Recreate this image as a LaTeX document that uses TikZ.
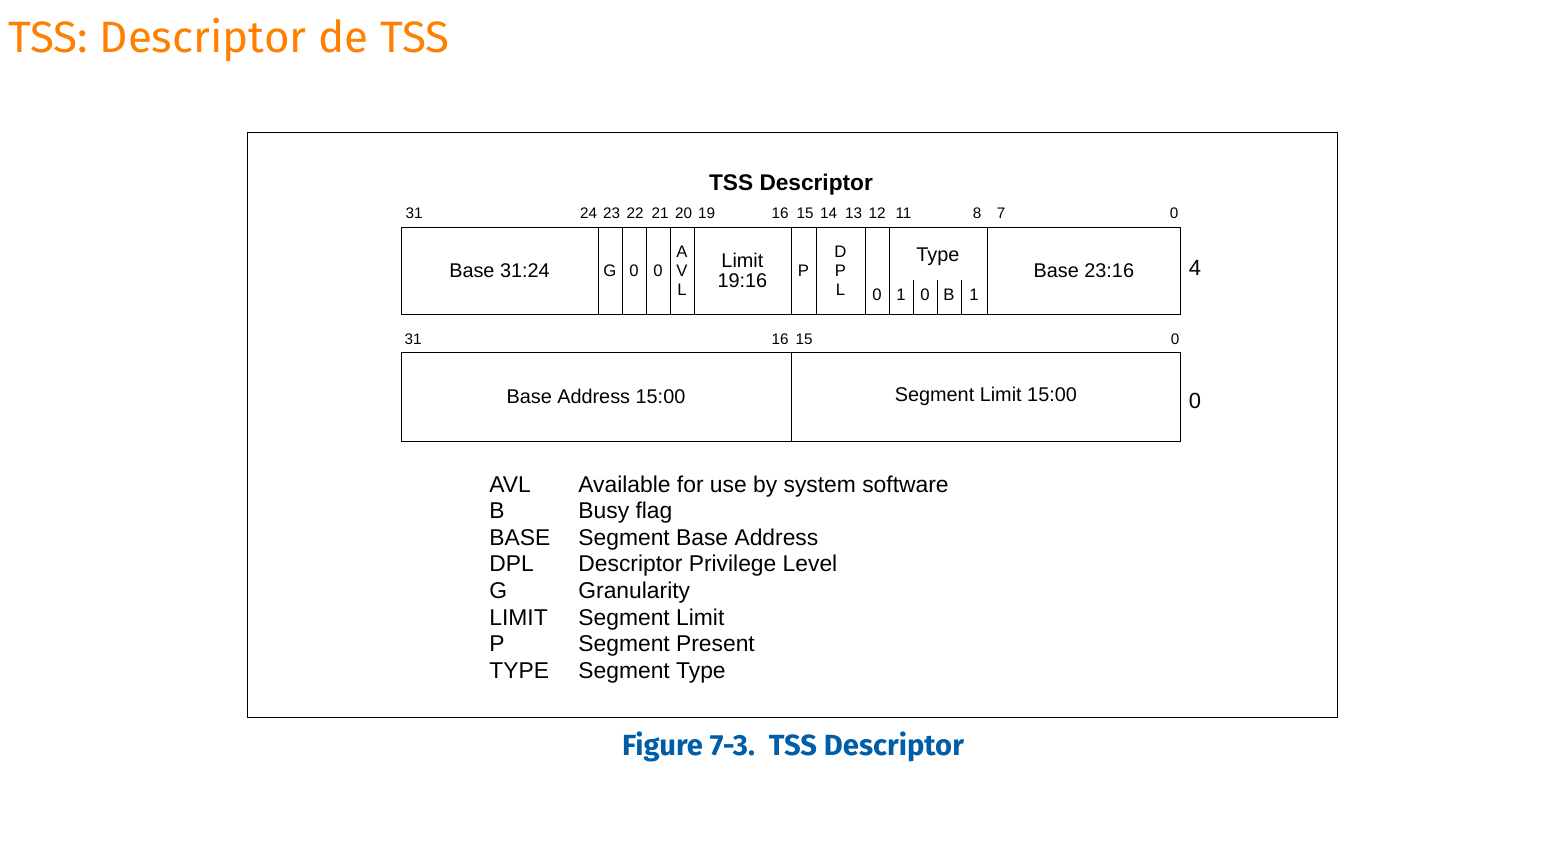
\documentclass[tikz,border=0pt]{standalone}
\usepackage{fontspec}
\setmainfont{Liberation Sans}
\newfontfamily\firafont{Fira Sans}
\usetikzlibrary{positioning}
\definecolor{tssorange}{RGB}{255,128,0}
\definecolor{tssblue}{RGB}{0,94,168}

\begin{document}
\begin{tikzpicture}[x=0.02cm,y=-0.02cm,line width=0.45pt]
    \tikzstyle{field} = [rectangle, draw, inner sep=0pt, outer sep=0pt,
        minimum height=1.74cm, align=center, font=\fontsize{11.3}{11.3}\selectfont]
    \tikzstyle{flag} = [field, minimum width=0.48cm, font=\fontsize{9.5}{10.8}\selectfont]
    \tikzstyle{tbit} = [inner sep=0pt, outer sep=0pt, minimum width=0.48cm,
        minimum height=0.68cm, text depth=0.1cm, font=\fontsize{9.5}{10.8}\selectfont]
    \tikzstyle{bitno} = [anchor=base, inner sep=0pt, font=\fontsize{8.7}{10}\selectfont]
    \tikzstyle{key} = [anchor=base west, inner sep=0pt, font=\fontsize{13}{15}\selectfont]

    \useasboundingbox (0,0) rectangle (1561,842);
    \node [anchor=base west, inner sep=0pt, text=tssorange,
        font=\firafont\fontsize{25}{30}\selectfont] (title) at (8,52) {TSS: Descriptor de TSS};
    \node [draw, inner sep=0pt, outer sep=0pt, minimum width=21.82cm, minimum height=11.7cm,
        anchor=north west] (frame) at (247,132) {};
    \node [anchor=base, inner sep=0pt, font=\bfseries\fontsize{12.9}{15}\selectfont] (head) at (791,190) {TSS Descriptor};
    %
    % upper doubleword
    \node [field, minimum width=3.94cm, anchor=north west] (b3124) at (401,227) {Base 31:24};
    \node [flag, right=0pt of b3124] (g) {G};
    \node [flag, right=0pt of g] (z22) {0};
    \node [flag, right=0pt of z22] (z21) {0};
    \node [flag, right=0pt of z21] (avl) {A\\V\\L};
    \node [field, right=0pt of avl, minimum width=1.94cm] (lim) {Limit\\19:16};
    \node [flag, right=0pt of lim, minimum width=0.5cm] (p) {P};
    \node [flag, right=0pt of p, minimum width=0.98cm] (dpl) {D\\P\\L};
    \node [flag, right=0pt of dpl] (s12) {};
    \node [field, right=0pt of s12, minimum width=1.96cm] (type) {};
    \node [field, right=0pt of type, minimum width=3.88cm] (b2316) {Base 23:16};
    \node [tbit, anchor=south] (z12) at (s12.south) {0};
    \node [anchor=base, inner sep=0pt, font=\fontsize{11.3}{11.3}\selectfont] (tlab)
        at ([yshift=-0.7cm]type.north) {Type};
    \node [tbit, anchor=south west] (t11) at (type.south west) {1};
    \node [tbit, right=0pt of t11] (t10) {0};
    \node [tbit, right=0pt of t10] (t9) {B};
    \node [tbit, right=0pt of t9, minimum width=0.52cm] (t8) {1};
    \draw (t10.north west) -- (t10.south west);
    \draw (t9.north west) -- (t9.south west);
    \draw (t8.north west) -- (t8.south west);
    \node [anchor=base, inner sep=0pt, font=\fontsize{12.5}{14}\selectfont] (dw4) at (1195,275) {4};
    %
    \node [bitno] (n31) at (414,218) {31};
    \node [bitno] (n24) at (588.5,218) {24};
    \node [bitno] (n23) at (611.5,218) {23};
    \node [bitno] (n22) at (635,218) {22};
    \node [bitno] (n21) at (660,218) {21};
    \node [bitno] (n20) at (683.5,218) {20};
    \node [bitno] (n19) at (706.5,218) {19};
    \node [bitno] (n16) at (780,218) {16};
    \node [bitno] (n15) at (805,218) {15};
    \node [bitno] (n14) at (828.5,218) {14};
    \node [bitno] (n13) at (853.5,218) {13};
    \node [bitno] (n12) at (877,218) {12};
    \node [bitno] (n11) at (903.5,218) {11};
    \node [bitno] (n8) at (977,218) {8};
    \node [bitno] (n7) at (1001,218) {7};
    \node [bitno] (n0) at (1174,218) {0};
    %
    % lower doubleword
    \node [field, minimum width=7.8cm, minimum height=1.78cm, anchor=north west] (ba1500) at (401,352) {Base Address 15:00};
    \node [field, minimum width=7.8cm, minimum height=1.78cm, right=0pt of ba1500] (sl1500) {Segment Limit 15:00};
    \node [anchor=base, inner sep=0pt, font=\fontsize{12.5}{14}\selectfont] (dw0) at (1195,408) {0};
    \node [bitno] (m31) at (413,344) {31};
    \node [bitno] (m16) at (780,344) {16};
    \node [bitno] (m15) at (804,344) {15};
    \node [bitno] (m0) at (1175,344) {0};
    %
    % legend
    \node [key] (k1) at (489,492) {AVL};
    \node [key] (d1) at (578,492) {Available for use by system software};
    \node [key] (k2) at (489,518.6) {B};
    \node [key] (d2) at (578,518.6) {Busy flag};
    \node [key] (k3) at (489,545.2) {BASE};
    \node [key] (d3) at (578,545.2) {Segment Base Address};
    \node [key] (k4) at (489,571.8) {DPL};
    \node [key] (d4) at (578,571.8) {Descriptor Privilege Level};
    \node [key] (k5) at (489,598.4) {G};
    \node [key] (d5) at (578,598.4) {Granularity};
    \node [key] (k6) at (489,625) {LIMIT};
    \node [key] (d6) at (578,625) {Segment Limit};
    \node [key] (k7) at (489,651.6) {P};
    \node [key] (d7) at (578,651.6) {Segment Present};
    \node [key] (k8) at (489,678.2) {TYPE};
    \node [key] (d8) at (578,678.2) {Segment Type};
    %
    \node [anchor=base, inner sep=0pt, text=tssblue,
        font=\firafont\bfseries\fontsize{16.6}{20}\selectfont] (cap) at (793,755) {Figure 7-3.\ \ TSS Descriptor};
\end{tikzpicture}
\end{document}
